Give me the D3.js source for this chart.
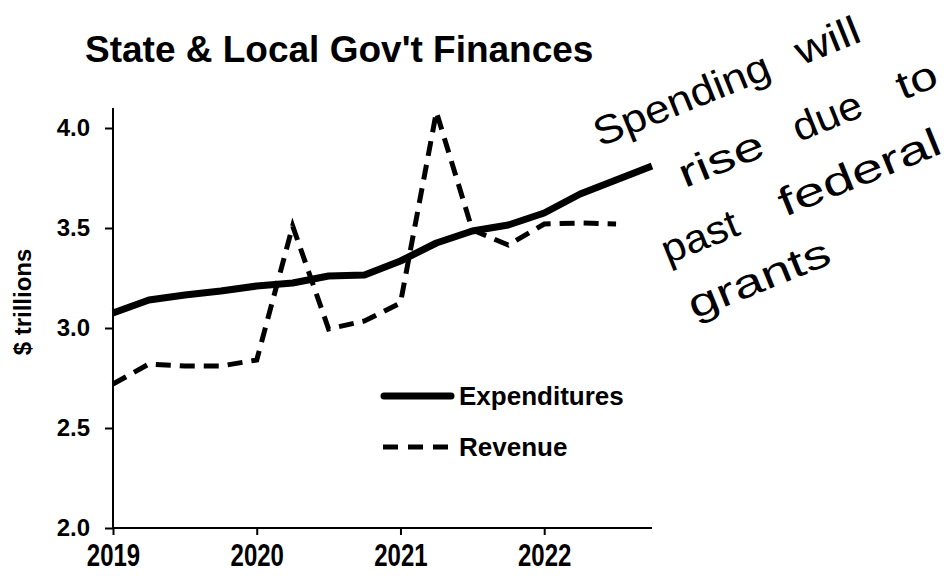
<!DOCTYPE html>
<html>
<head>
<meta charset="utf-8">
<script src="https://cdn.jsdelivr.net/npm/d3@7"></script>
<style>
  body { margin: 0; background: #fff; }
  svg text { font-family: "Liberation Sans", Arial, sans-serif; }
</style>
</head>
<body>
<svg id="chart" width="950" height="576"></svg>
<script>
// quarterly data, $ trillions
var expQuarters = [2019, 2019.25, 2019.5, 2019.75, 2020, 2020.25, 2020.5, 2020.75,
                   2021, 2021.25, 2021.5, 2021.75, 2022, 2022.25, 2022.5, 2022.75]
var expenditures = [3.075, 3.14, 3.165, 3.185, 3.21, 3.225, 3.26, 3.265,
                    3.335, 3.425, 3.485, 3.515, 3.575, 3.67, 3.74, 3.81]
var revQuarters = [2019, 2019.25, 2019.5, 2019.75, 2020, 2020.25, 2020.5, 2020.75,
                   2021, 2021.25, 2021.5, 2021.75, 2022, 2022.25, 2022.5]
var revenue = [2.72, 2.82, 2.81, 2.81, 2.84, 3.51, 2.995, 3.035,
               3.125, 4.08, 3.49, 3.415, 3.52, 3.525, 3.52]
var yearTicks = [2019, 2020, 2021, 2022]
var valueTicks = [2.0, 2.5, 3.0, 3.5, 4.0]
var noteWords = ["Spending", "will", "rise", "due", "to", "past", "federal", "grants"]

var svg = d3.select("#chart")

var x = d3.scaleLinear().domain([2019, 2022.75]).range([113, 652])
var y = d3.scaleLinear().domain([2.0, 4.0]).range([528, 128])

// title
svg.append("text")
  .attr("x", 85).attr("y", 62)
  .attr("font-size", 37).attr("font-weight", "bold")
  .text("State & Local Gov't Finances")

// y axis
var yAxis = svg.append("g")
  .attr("transform", "translate(113,0)")
  .call(d3.axisLeft(y).tickValues(valueTicks).tickFormat(d3.format(".1f")).tickSize(8).tickPadding(15))
yAxis.select(".domain").remove()
yAxis.append("line").attr("x1", 0).attr("x2", 0).attr("y1", 108).attr("y2", 529)
  .attr("stroke", "#000").attr("stroke-width", 2)

// x axis
var xAxis = svg.append("g")
  .attr("transform", "translate(0,528)")
  .call(d3.axisBottom(x).tickValues(yearTicks).tickFormat(d3.format("d")).tickSize(7))
xAxis.select(".domain").remove()
xAxis.append("line").attr("x1", 112).attr("x2", 652).attr("y1", 0).attr("y2", 0)
  .attr("stroke", "#000").attr("stroke-width", 2)

svg.selectAll(".tick line").attr("stroke", "#000").attr("stroke-width", 2)
svg.selectAll(".tick text")
  .attr("fill", "#000").attr("font-size", 24).attr("font-weight", "bold")
  .style("font-family", "'Liberation Sans', Arial, sans-serif")
// year labels look a bit stretched vertically in the original
xAxis.selectAll(".tick text")
  .attr("dy", null).attr("y", 29.2)
  .attr("transform", "scale(1,1.3)")

// y label
svg.append("text")
  .attr("transform", "translate(31,302) rotate(-90)")
  .attr("text-anchor", "middle")
  .attr("font-size", 24).attr("font-weight", "bold")
  .text("$ trillions")

var line = d3.line()

svg.append("path")
  .attr("d", line(expQuarters.map(function(q, i) { return [x(q), y(expenditures[i])] })))
  .attr("fill", "none").attr("stroke", "#000").attr("stroke-width", 7)
  .attr("stroke-linejoin", "round")

svg.append("path")
  .attr("d", line(revQuarters.map(function(q, i) { return [x(q), y(revenue[i])] })))
  .attr("fill", "none").attr("stroke", "#000").attr("stroke-width", 5)
  .attr("stroke-dasharray", "15,9")

// legend
var legend = svg.append("g")
legend.append("line").attr("x1", 384).attr("x2", 451).attr("y1", 396).attr("y2", 396)
  .attr("stroke", "#000").attr("stroke-width", 7).attr("stroke-linecap", "round")
legend.append("text").attr("x", 459).attr("y", 405)
  .attr("font-size", 26).attr("font-weight", "bold").text("Expenditures")
legend.append("line").attr("x1", 383).attr("x2", 453).attr("y1", 447).attr("y2", 447)
  .attr("stroke", "#000").attr("stroke-width", 5).attr("stroke-dasharray", "15,10")
legend.append("text").attr("x", 459).attr("y", 456)
  .attr("font-size", 26).attr("font-weight", "bold").text("Revenue")

// handwritten note, tilted; word positions in the rotated frame
var wordU = [0, 217, 63, 186, 298, 19, 145, 23]
var wordV = [0, 0, 70, 70, 70, 134, 134, 195]
var wordW = [187, 67, 89, 72, 41, 80, 172, 150]
var note = svg.append("g").attr("transform", "translate(600,147) rotate(-22)")
note.selectAll("text")
  .data(noteWords)
  .enter().append("text")
  .attr("x", function(d, i) { return wordU[i] })
  .attr("y", function(d, i) { return wordV[i] })
  .attr("textLength", function(d, i) { return wordW[i] })
  .attr("lengthAdjust", "spacingAndGlyphs")
  .attr("font-size", 40)
  .text(function(d) { return d })
</script>
</body>
</html>
